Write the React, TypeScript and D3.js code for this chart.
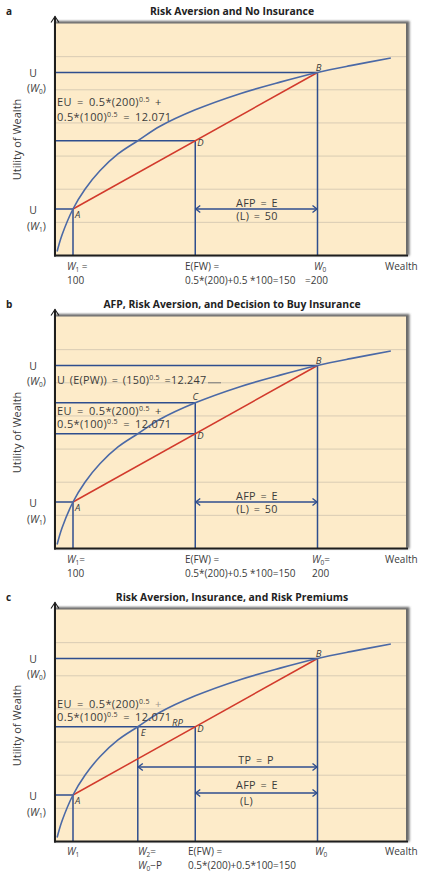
import React from "react";
import * as d3 from "d3";

// ---- data ----
const WEALTH = [93.5, 95.5, 100, 104.9, 111, 118.4, 126.5, 135.6, 150, 168.3, 184.7, 200, 213.5, 230];
const UTILITY = [8.71, 9.21, 10, 10.6, 11.16, 11.67, 12.071, 12.51, 13.01, 13.5, 13.85, 14.142, 14.35, 14.58];
const W1 = 100;
const W0 = 200;
const EFW = 150;
const CE = 126.5; // W2 = W0 - P (certainty equivalent)
const U_W1 = 10;
const U_W0 = 14.142;
const EU = 12.071;
const U_C = 13.01;
const TITLES = [
  "Risk Aversion and No Insurance",
  "AFP, Risk Aversion, and Decision to Buy Insurance",
  "Risk Aversion, Insurance, and Risk Premiums",
];
const LETTERS = ["a", "b", "c"];
const PANEL_OFFSETS = [0, 293, 586];
const GRID_BANDS = 7;

// ---- layout ----
const PL = 55;
const PR = 406;
const PT = 23.5;
const PB = 255.5;
const FONT = "'Open Sans', 'Noto Sans', sans-serif";
const BG = "#fdebc9";
const GRID = "#d9ccb4";
const GUIDE = "#2f4e8e";
const CURVE = "#4b69a6";
const RED = "#d23a2c";
const TXT = "#3b3b3b";

function Arrow({ x1, x2, y }: { x1: number; x2: number; y: number }) {
  return (
    <g stroke={GUIDE} strokeWidth={1.4} fill="none">
      <line x1={x1} x2={x2} y1={y} y2={y} />
      <path d={`M${x1 + 5},${y - 3.5} L${x1 + 0.5},${y} L${x1 + 5},${y + 3.5}`} />
      <path d={`M${x2 - 5},${y - 3.5} L${x2 - 0.5},${y} L${x2 - 5},${y + 3.5}`} />
    </g>
  );
}

function Sub({ t, s, after, pre }: { t: string; s: string; after?: string; pre?: string }) {
  return (
    <>
      {pre ? <tspan>{pre}</tspan> : null}
      <tspan fontStyle="italic">{t}</tspan>
      <tspan fontSize={6.5} dy={2}>{s}</tspan>
      {after ? <tspan dy={-2}>{after}</tspan> : null}
    </>
  );
}

function Panel({ idx }: { idx: number }) {
  const off = PANEL_OFFSETS[idx];
  const x = d3.scaleLinear().domain([W1, W0]).range([73, 317.5]);
  const y = d3.scaleLinear().domain([U_W1, U_W0]).range([209, 72.5]);
  const gy = d3.scaleLinear().domain([0, GRID_BANDS]).range([PT, PB]);
  const pts: [number, number][] = WEALTH.map((w, i) => [w, UTILITY[i]]);
  const curvePath = d3
    .line<[number, number]>()
    .x((d) => x(d[0]))
    .y((d) => y(d[1]))
    .curve(d3.curveCatmullRom.alpha(0.5))(pts) as string;

  const guide = { stroke: GUIDE, strokeWidth: 1.5 };
  const txt = { fontFamily: FONT, fill: TXT, fontSize: 10 };
  const ann = { fontFamily: FONT, fill: TXT, fontSize: 10.8, letterSpacing: 0.3, wordSpacing: 1.5 };
  const eu = { fontFamily: FONT, fill: TXT, fontSize: 11, letterSpacing: 0.35, wordSpacing: 2 };
  const rowA = idx === 2 ? 269 : 270;
  const rowB = idx === 2 ? 282.5 : 284;

  return (
    <g transform={`translate(0,${off})`}>
      {/* letter & title */}
      <text x={6} y={15} {...txt} fontSize={10} fontWeight="bold" fill="#222">
        {LETTERS[idx]}
      </text>
      <text x={232} y={15} {...txt} fontSize={10.4} fontWeight="bold" fill="#222" textAnchor="middle">
        {TITLES[idx]}
      </text>

      {/* frame */}
      <rect x={PL} y={PT - 2.5} width={PR - PL + 3.5} height={PB - PT + 2.5} fill="#6a6a6a" filter="url(#blur)" />
      <rect x={PL} y={PT} width={PR - PL} height={PB - PT} fill={BG} />
      {d3.range(1, GRID_BANDS).map((i) => (
        <line key={i} x1={PL} x2={PR} y1={gy(i)} y2={gy(i)} stroke={GRID} strokeWidth={1} />
      ))}

      {/* y label */}
      <text
        transform={`translate(21,${(PT + PB) / 2}) rotate(-90)`}
        textAnchor="middle"
        {...txt}
        fontSize={11}
      >
        Utility of Wealth
      </text>

      {/* guide lines */}
      <line x1={PL} x2={x(W0)} y1={y(U_W0)} y2={y(U_W0)} {...guide} />
      <line x1={x(W0)} x2={x(W0)} y1={y(U_W0)} y2={PB} {...guide} />
      <line x1={PL} x2={x(W1)} y1={y(U_W1)} y2={y(U_W1)} {...guide} />
      <line x1={x(W1)} x2={x(W1)} y1={y(U_W1)} y2={PB} {...guide} />
      {idx === 0 && (
        <>
          <line x1={PL} x2={x(EFW)} y1={y(EU)} y2={y(EU)} {...guide} />
          <line x1={x(EFW)} x2={x(EFW)} y1={y(EU)} y2={PB} {...guide} />
        </>
      )}
      {idx === 1 && (
        <>
          <line x1={PL} x2={x(EFW)} y1={y(U_C)} y2={y(U_C)} {...guide} />
          <line x1={PL} x2={x(EFW)} y1={y(EU)} y2={y(EU)} {...guide} />
          <line x1={x(EFW)} x2={x(EFW)} y1={y(U_C)} y2={PB} {...guide} />
        </>
      )}
      {idx === 2 && (
        <>
          <line x1={PL} x2={x(EFW)} y1={y(EU)} y2={y(EU)} {...guide} />
          <line x1={x(CE)} x2={x(CE)} y1={y(EU)} y2={PB} {...guide} />
          <line x1={x(EFW)} x2={x(EFW)} y1={y(EU)} y2={PB} {...guide} />
        </>
      )}

      {/* chord and curve */}
      <line x1={x(W1)} y1={y(U_W1)} x2={x(W0)} y2={y(U_W0)} stroke={RED} strokeWidth={1.5} />
      <path d={curvePath} fill="none" stroke={CURVE} strokeWidth={1.6} />

      {/* axes */}
      <line x1={PL} x2={PL} y1={PB + 1} y2={16.5} stroke="#1e1e1e" strokeWidth={2} />
      <path d={`M${PL - 4},22.5 L${PL},16.5 L${PL + 4},22.5`} fill="none" stroke="#1e1e1e" strokeWidth={1.1} />
      <line x1={PL - 1} x2={PR + 2} y1={PB} y2={PB} stroke="#1e1e1e" strokeWidth={2} />

      {/* left U labels */}
      <text x={33} y={y(U_W0) + 4} {...txt} fontSize={10.5} textAnchor="middle">U</text>
      <text x={27} y={y(U_W0) + 19.5} {...txt} fontSize={10.5}>
        <Sub pre="(" t="W" s="0" after=")" />
      </text>
      <text x={33} y={y(U_W1) + 4.5} {...txt} fontSize={10.5} textAnchor="middle">U</text>
      <text x={27} y={y(U_W1) + 21} {...txt} fontSize={10.5}>
        <Sub pre="(" t="W" s="1" after=")" />
      </text>

      {/* point labels */}
      <text x={x(W0) + 1} y={y(U_W0) - 2} {...txt} fontSize={9.5} fontStyle="italic" textAnchor="middle">B</text>
      <text x={x(EFW) + 2} y={y(EU) + 5} {...txt} fontSize={9.5} fontStyle="italic">D</text>
      <text x={x(W1) + 2} y={y(U_W1) + 9} {...txt} fontSize={9.5} fontStyle="italic">A</text>
      {idx === 1 && (
        <text x={x(EFW)} y={y(U_C) - 2.5} {...txt} fontSize={9.5} fontStyle="italic" textAnchor="middle">C</text>
      )}
      {idx === 2 && (
        <>
          <text x={x(CE) + 3} y={y(EU) + 9.5} {...txt} fontSize={9.5} fontStyle="italic">E</text>
          <text x={172} y={y(EU) - 1.2} {...txt} fontSize={9.5} fontStyle="italic">RP</text>
        </>
      )}

      {/* EU annotation */}
      <text x={57} y={idx === 0 ? 105.5 : 122} {...eu}>
        EU = 0.5*(200)<tspan fontSize={7} dy={-4}>0.5</tspan>
        <tspan dy={4} fill={idx === 2 ? "#a09a90" : TXT}> +</tspan>
      </text>
      <text x={57} y={idx === 0 ? 121 : 135} {...eu}>
        0.5*(100)<tspan fontSize={7} dy={-4}>0.5</tspan>
        <tspan dy={4}> = 12.071</tspan>
      </text>
      {idx === 1 && (
        <>
          <text x={57} y={91} {...ann}>
            U (E(PW)) = (150)<tspan fontSize={7} dy={-4.5}>0.5</tspan>
            <tspan dy={4.5}> =12.247</tspan>
          </text>
          <line x1={208} x2={221} y1={gy(2)} y2={gy(2)} stroke="#777" strokeWidth={1} />
        </>
      )}

      {/* premium arrows */}
      {idx < 2 && (
        <>
          <Arrow x1={x(EFW)} x2={x(W0)} y={y(U_W1)} />
          <text x={257} y={206.5} {...ann} textAnchor="middle">AFP = E</text>
          <text x={257} y={220} {...ann} textAnchor="middle">(L) = 50</text>
        </>
      )}
      {idx === 2 && (
        <>
          <Arrow x1={x(CE)} x2={x(W0)} y={181} />
          <text x={256} y={177.5} {...ann} textAnchor="middle">TP = P</text>
          <Arrow x1={x(EFW)} x2={x(W0)} y={207} />
          <text x={257} y={202.5} {...ann} textAnchor="middle">AFP = E</text>
          <text x={240} y={219} {...ann}>(L)</text>
        </>
      )}

      {/* x labels */}
      <text x={385} y={rowA} {...txt}>Wealth</text>
      {idx === 0 && (
        <>
          <text x={67} y={rowA} {...txt}><Sub t="W" s="1" after=" =" /></text>
          <text x={67} y={rowB} {...txt}>100</text>
          <text x={185} y={rowA} {...txt}>E(FW) =</text>
          <text x={185} y={rowB} {...txt}>0.5*(200)+0.5 *100=150</text>
          <text x={314} y={rowA} {...txt}><Sub t="W" s="0" /></text>
          <text x={305} y={rowB} {...txt}>=200</text>
        </>
      )}
      {idx === 1 && (
        <>
          <text x={67} y={rowA} {...txt}><Sub t="W" s="1" after="=" /></text>
          <text x={67} y={rowB} {...txt}>100</text>
          <text x={185} y={rowA} {...txt}>E(FW) =</text>
          <text x={185} y={rowB} {...txt}>0.5*(200)+0.5 *100=150</text>
          <text x={312} y={rowA} {...txt}><Sub t="W" s="0" after="=" /></text>
          <text x={312} y={rowB} {...txt}>200</text>
        </>
      )}
      {idx === 2 && (
        <>
          <text x={67} y={rowA} {...txt}><Sub t="W" s="1" /></text>
          <text x={138} y={rowA} {...txt}><Sub t="W" s="2" after="=" /></text>
          <text x={138} y={rowB} {...txt}><Sub t="W" s="0" after="−P" /></text>
          <text x={188} y={rowA} {...txt}>E(FW) =</text>
          <text x={188} y={rowB} {...txt}>0.5*(200)+0.5*100=150</text>
          <text x={315} y={rowA} {...txt}><Sub t="W" s="0" /></text>
        </>
      )}
    </g>
  );
}

export default function App() {
  return (
    <svg
      width={422}
      height={871}
      viewBox="0 0 422 871"
      style={{ position: "absolute", left: 0, top: 0, display: "block", background: "#fff" }}
    >
      <defs>
        <filter id="blur" x="-5%" y="-5%" width="110%" height="110%">
          <feGaussianBlur stdDeviation={1.2} />
        </filter>
      </defs>
      {[0, 1, 2].map((i) => (
        <Panel key={i} idx={i} />
      ))}
    </svg>
  );
}
